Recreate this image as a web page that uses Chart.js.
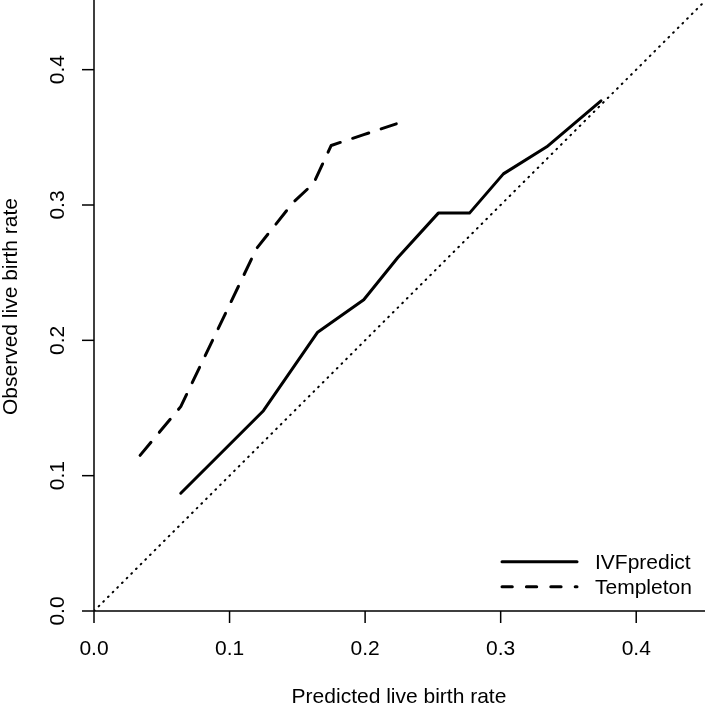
<!DOCTYPE html>
<html>
<head>
<meta charset="utf-8">
<title>Calibration plot</title>
<script src="https://cdn.jsdelivr.net/npm/chart.js@4/dist/chart.umd.min.js"></script>
<style>
  html, body { margin: 0; padding: 0; background: #fff; }
  #wrap { width: 705px; height: 705px; }
</style>
</head>
<body>
<div id="wrap"><canvas id="calChart" width="705" height="705"></canvas></div>
<script>
// Datos
const ivfX = [0.064, 0.125, 0.165, 0.199, 0.224, 0.254, 0.277, 0.302, 0.334, 0.374];
const ivfY = [0.087, 0.148, 0.206, 0.230, 0.261, 0.294, 0.294, 0.323, 0.343, 0.377];
const templetonX = [0.034, 0.064, 0.120, 0.147, 0.162, 0.175, 0.199, 0.223];
const templetonY = [0.115, 0.151, 0.268, 0.302, 0.316, 0.344, 0.352, 0.360];
const diagX = [0, 0.45];
const diagY = [0, 0.45];
const tickValues = [0, 0.1, 0.2, 0.3, 0.4];
const tickLabels = ["0.0", "0.1", "0.2", "0.3", "0.4"];
const seriesNames = ["IVFpredict", "Templeton"];
const xTitle = "Predicted live birth rate";
const yTitle = "Observed live birth rate";

const FONT = "21px 'Liberation Sans', Arial, sans-serif";

function toPoints(xs, ys) {
    return xs.map((x, i) => ({ x: x, y: ys[i] }));
}

// Ejes al estilo R: solo izquierda y abajo, etiquetas del eje y giradas
const rAxes = {
    id: "rAxes",
    afterDraw(chart) {
        const ctx = chart.ctx;
        const xs = chart.scales.x;
        const ys = chart.scales.y;
        const area = chart.chartArea;
        const x0 = xs.getPixelForValue(0);
        const y0 = ys.getPixelForValue(0);
        const tick = 12;

        ctx.save();
        ctx.strokeStyle = "#000";
        ctx.fillStyle = "#000";
        ctx.lineWidth = 1.5;
        ctx.lineCap = "butt";

        // lineas de eje
        ctx.beginPath();
        ctx.moveTo(x0, y0);
        ctx.lineTo(area.right + 1, y0);
        ctx.moveTo(x0, y0);
        ctx.lineTo(x0, area.top - 2);
        ctx.stroke();

        ctx.font = FONT;

        // eje x
        ctx.textAlign = "center";
        ctx.textBaseline = "alphabetic";
        tickValues.forEach((v, i) => {
            const px = xs.getPixelForValue(v);
            ctx.beginPath();
            ctx.moveTo(px, y0);
            ctx.lineTo(px, y0 + tick);
            ctx.stroke();
            ctx.fillText(tickLabels[i], px, y0 + 44);
        });

        // eje y
        tickValues.forEach((v, i) => {
            const py = ys.getPixelForValue(v);
            ctx.beginPath();
            ctx.moveTo(x0, py);
            ctx.lineTo(x0 - tick, py);
            ctx.stroke();
            ctx.save();
            ctx.translate(x0 - 30, py);
            ctx.rotate(-Math.PI / 2);
            ctx.fillText(tickLabels[i], 0, 0);
            ctx.restore();
        });

        // titulos
        const cx = (area.left + area.right) / 2;
        const cy = (area.top + area.bottom) / 2;
        ctx.fillText(xTitle, cx, y0 + 92);
        ctx.save();
        ctx.translate(17, cy);
        ctx.rotate(-Math.PI / 2);
        ctx.fillText(yTitle, 0, 0);
        ctx.restore();

        // leyenda
        const lx1 = 502, lx2 = 577, tx = 595;
        const rows = [561.7, 586.7];
        const dashes = [[], [10.3, 14.1]];
        ctx.lineWidth = 3;
        ctx.lineCap = "round";
        ctx.textAlign = "left";
        rows.forEach((ry, i) => {
            ctx.setLineDash(dashes[i]);
            ctx.beginPath();
            ctx.moveTo(lx1, ry);
            ctx.lineTo(lx2, ry);
            ctx.stroke();
            ctx.fillText(seriesNames[i], tx, ry + 7.5);
        });
        ctx.setLineDash([]);
        ctx.restore();
    }
};

new Chart(document.getElementById("calChart").getContext("2d"), {
    type: "line",
    data: {
        datasets: [
            {
                label: "y = x",
                data: toPoints(diagX, diagY),
                borderColor: "#000",
                borderWidth: 2,
                borderDash: [0.8, 5.8],
                borderCapStyle: "round",
                pointRadius: 0,
                fill: false
            },
            {
                label: seriesNames[0],
                data: toPoints(ivfX, ivfY),
                borderColor: "#000",
                borderWidth: 3,
                borderJoinStyle: "round",
                borderCapStyle: "round",
                pointRadius: 0,
                fill: false
            },
            {
                label: seriesNames[1],
                data: toPoints(templetonX, templetonY),
                borderColor: "#000",
                borderWidth: 3,
                borderDash: [17, 13],
                borderJoinStyle: "round",
                borderCapStyle: "round",
                pointRadius: 0,
                fill: false
            }
        ]
    },
    options: {
        responsive: false,
        animation: false,
        layout: {
            padding: { left: 94, right: 1, top: 2, bottom: 94 }
        },
        plugins: {
            legend: { display: false },
            tooltip: { enabled: false }
        },
        scales: {
            x: { type: "linear", min: 0, max: 0.45, display: false },
            y: { type: "linear", min: 0, max: 0.45, display: false }
        }
    },
    plugins: [rAxes]
});
</script>
</body>
</html>
